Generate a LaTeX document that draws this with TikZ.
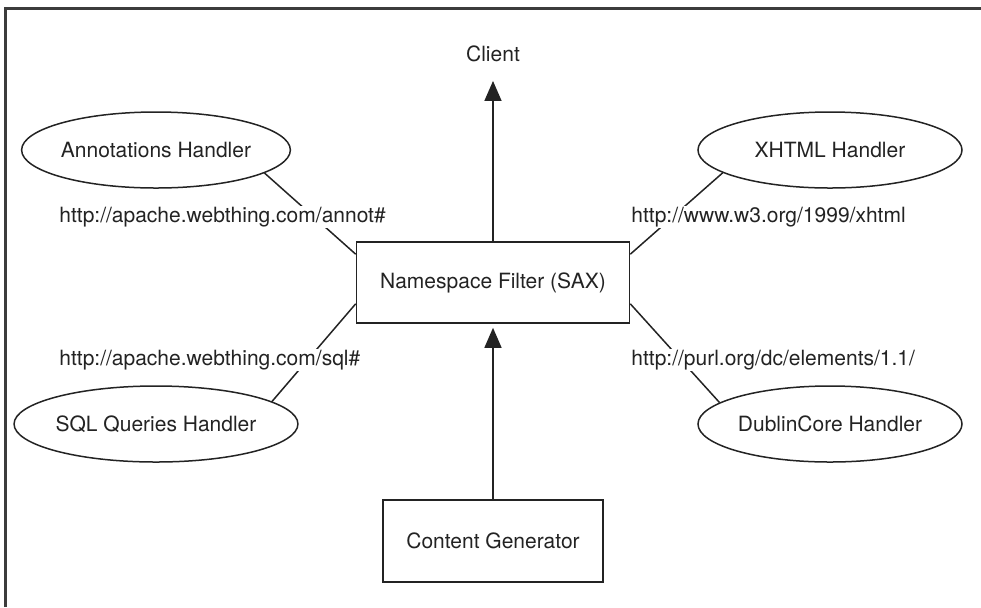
\documentclass[tikz,border=0pt]{standalone}
\usepackage{fontspec}
\setmainfont{TeX Gyre Heros}
\usetikzlibrary{shapes.geometric,arrows.meta,calc}
\definecolor{ink}{RGB}{35,35,35}
\definecolor{framec}{RGB}{60,60,60}
\begin{document}
\begin{tikzpicture}[x=0.5pt,y=-0.5pt,
  font=\fontsize{10.5}{12.6}\selectfont,
  every node/.style={text=ink},
  handler/.style={ellipse, draw=ink, line width=0.75pt, inner sep=0pt, minimum width=132pt, minimum height=38pt},
  procbox/.style={rectangle, draw=ink, line width=0.8pt, inner sep=0pt},
  urllabel/.style={anchor=west, fill=white, inner sep=0.5pt},
  conn/.style={draw=ink, line width=0.75pt},
  arrowconn/.style={conn, -{Triangle[width=8.5pt,length=10pt]}},
  frameline/.style={draw=framec, line width=1.5pt}]
\useasboundingbox (0,0) rectangle (981,607);
\draw[frameline] (5,607) -- (5,8) -- (981,8);

\node[handler] (annot) at (156,150) {Annotations Handler};
\node[handler] (xhtml) at (830,150) {XHTML Handler};
\node[handler] (sql) at (156,424) {SQL Queries Handler};
\node[handler] (dc) at (830,424) {DublinCore Handler};
\node[procbox, minimum width=136.5pt, minimum height=40.5pt] (ns) at (493,282.5) {Namespace Filter (SAX)};
\node[procbox, minimum width=110pt, minimum height=41pt] (cg) at (493,541) {Content Generator};
\node[inner sep=2pt] (client) at (493,53.5) {Client};

\draw[arrowconn, shorten >=7.5pt] (ns.north) -- (client.south);
\draw[arrowconn, shorten >=2pt] (cg.north) -- (ns.south);

\draw[conn] (annot.-12) -- ($(ns.north west)+(0,13)$);
\draw[conn] (xhtml.192) -- ($(ns.north east)+(0,13)$);
\draw[conn] (sql.11) -- ($(ns.south west)+(0,-20)$);
\draw[conn] (dc.169) -- ($(ns.south east)+(0,-20)$);

\node[urllabel] (lannot) at (58,217) {http://apache.webthing.com/annot\#};
\node[urllabel] (lsql) at (58,360) {http://apache.webthing.com/sql\#};
\node[urllabel] (lxhtml) at (630,217) {http://www.w3.org/1999/xhtml};
\node[urllabel] (ldc) at (630,360) {http://purl.org/dc/elements/1.1/};
\end{tikzpicture}
\end{document}
